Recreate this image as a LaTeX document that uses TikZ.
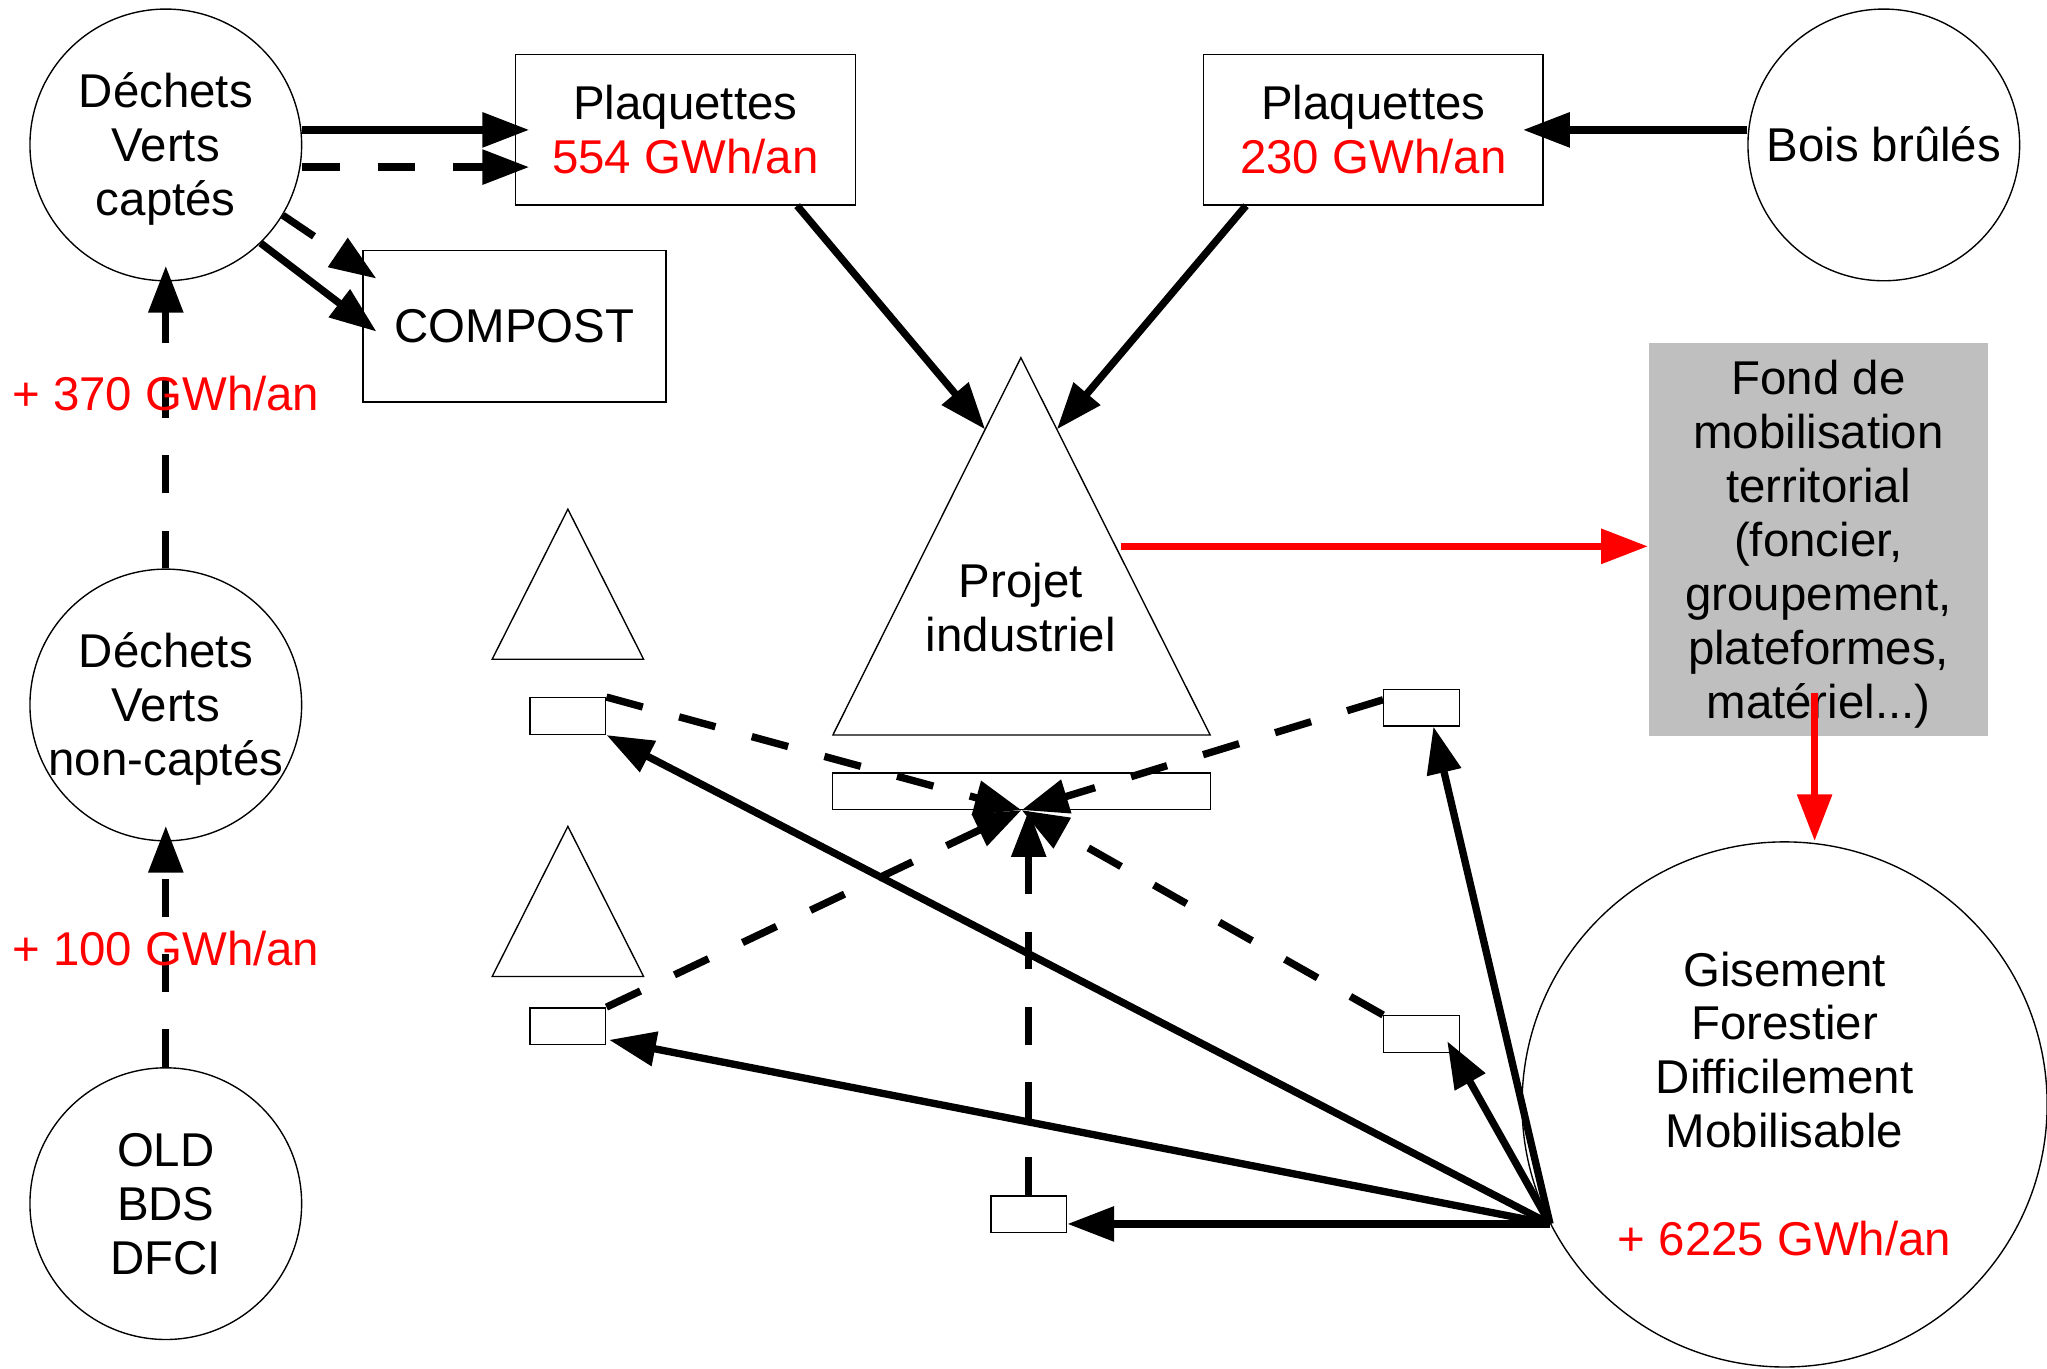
\documentclass[tikz,border=0pt]{standalone}
\usepackage{fontspec}
\setmainfont{Liberation Sans}
\usetikzlibrary{arrows.meta,calc}
\newcommand\lnstrut{\vrule height 9.35pt depth 2.19pt width 0pt}

\begin{document}
\begin{tikzpicture}[x=0.01cm,y=-0.01cm,
    font=\fontsize{10.33}{11.75}\selectfont,
    txt/.style={align=center,execute at begin node=\lnstrut,execute at end node=\lnstrut},
    bubble/.style={txt,circle,draw,line width=0.3pt,minimum size=2.08cm,inner sep=0pt},
    plate/.style={txt,rectangle,draw,line width=0.3pt,minimum width=2.6cm,minimum height=1.15cm,inner sep=0pt},
    slot/.style={rectangle,draw,line width=0.3pt,minimum width=0.58cm,minimum height=0.28cm,inner sep=0pt},
    flow/.style={line width=1.6pt,-{Triangle[length=10.2pt,width=7.3pt]}},
    dflow/.style={flow,dash pattern=on 8.2pt off 8.2pt},
    rflow/.style={flow,red},
    gain/.style={txt,text=red}]
  \useasboundingbox (0,0) rectangle (1568,1048);
  % sources
  \node[bubble] (vc) at (127,111) {\lnstrut Déchets\\Verts\\captés};
  \node[bubble,inner sep=-1.6pt] (vnc) at (127,540) {\lnstrut Déchets\\Verts\\non-captés};
  \node[bubble] (old) at (127,922) {\lnstrut OLD\\BDS\\DFCI};
  \node[bubble] (bois) at (1443,111) {Bois brûlés};
  \node[bubble,minimum size=4.02cm] (gis) at (1367,846)
    {\lnstrut Gisement\\Forestier\\Difficilement\\Mobilisable\\[11.75pt]\textcolor{red}{+ 6225 GWh/an}};
  \node[plate] (pl1) at (525,99.5) {\lnstrut Plaquettes\\\textcolor{red}{554 GWh/an}};
  \node[plate] (pl2) at (1052,99.5) {\lnstrut Plaquettes\\\textcolor{red}{230 GWh/an}};
  \node[plate,minimum width=2.32cm,minimum height=1.16cm] (comp) at (394,250) {COMPOST};
  \node[plate,draw=none,fill=gray!50,minimum height=3.01cm] (fond) at (1393,413.5)
    {\lnstrut Fond de\\mobilisation\\territorial\\(foncier,\\groupement,\\plateformes,\\matériel...)};
  % projet industriel
  \coordinate (ind top) at (782,274);
  \coordinate (ind left) at (638,563);
  \coordinate (ind right) at (927,563);
  \draw[line width=0.3pt] (ind top) -- (ind left) -- (ind right) -- cycle;
  \node[txt] (ind) at (782,466) {\lnstrut Projet\\industriel};
  \node[slot,minimum width=2.89cm] (base) at (782.5,606) {};
  % small units
  \draw[line width=0.3pt] (435,390) -- (377,505) -- (493,505) -- cycle;
  \draw[line width=0.3pt] (435,633) -- (377,748) -- (493,748) -- cycle;
  \node[slot] (s1) at (435,548.5) {};
  \node[slot] (s2) at (435,786) {};
  \node[slot] (s3) at (1089,542) {};
  \node[slot] (s4) at (1089,792) {};
  \node[slot] (s5) at (788,930) {};
  % flows
  \draw[flow] (vc.east |- pl1.west) -- ([xshift=0.11cm]pl1.west);
  \draw[dflow] ($(vc.east |- pl1.west)+(0,28.5)$) -- ($(pl1.west)+(11,28.5)$);
  \draw[dflow] (vc.-31) -- ($(comp.north west)+(11,22)$);
  \draw[flow] (vc.-46) -- ($(comp.west)+(11,4)$);
  \draw[flow] ($(pl1.south east)+(-45,0)$) -- ($(ind top)!0.19!(ind left)$);
  \draw[flow] ($(pl2.south west)+(33,0)$) -- ($(ind top)!0.19!(ind right)$);
  \draw[flow] (bois.west |- pl2.east) -- ($(pl2.east)+(-16,0)$);
  \draw[dflow] (vnc.north) -- ($(vc.south)+(0,-12)$) node[gain,pos=0.575] {+ 370 GWh/an};
  \draw[dflow] (old.north) -- ($(vnc.south)+(0,-12)$) node[gain,pos=0.49] {+ 100 GWh/an};
  % fond
  \coordinate (r0) at ($(ind top)!0.5!(ind right)+(4,0)$);
  \coordinate (r1) at ($(fond.south)+(-3,-34)$);
  \draw[rflow] (r0) -- (r0 -| fond.west);
  \draw[rflow] (r1) -- (r1 |- gis.north);
  % towards the base
  \coordinate (hub) at (base.south);
  \draw[dflow] (s1.north east) -- (hub);
  \draw[dflow] ($(s3.west)+(0,-6)$) -- (hub);
  \draw[dflow] (s2.north east) -- (hub);
  \draw[dflow] (s4.north west) -- (hub);
  \draw[dflow] (s5.north) -- (s5.north |- hub);
  % from the gisement
  \coordinate (src) at (gis.207);
  \draw[flow] (src) -- (s1.south east);
  \draw[flow] (src) -- ($(s2.south east)+(2,-4)$);
  \draw[flow] (src) -- (s5.east |- src);
  \draw[flow] (src) -- ($(s4.south east)+(-10,-9)$);
  \draw[flow] (src) -- ($(s3.south)+(9,0)$);
\end{tikzpicture}
\end{document}
